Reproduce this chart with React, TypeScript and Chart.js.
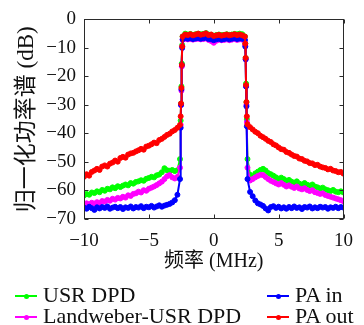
import React, { useEffect, useRef } from "react";
import { Chart, registerables } from "chart.js";

Chart.register(...registerables);

// Frequency grid (MHz): left stopband, left edge, passband, right edge, right stopband
const freqLeftStop = [-10, -9.8, -9.6, -9.4, -9.2, -9, -8.8, -8.6, -8.4, -8.2, -8, -7.8, -7.6, -7.4, -7.2, -7, -6.8, -6.6, -6.4, -6.2, -6, -5.8, -5.6, -5.4, -5.2, -5, -4.8, -4.6, -4.4, -4.2, -4, -3.8, -3.6, -3.4, -3.2, -3, -2.8, -2.6];
const freqLeftEdge = [-2.55, -2.52, -2.49, -2.46, -2.43];
const freqPass = [-2.4, -2.2, -2, -1.8, -1.6, -1.4, -1.2, -1, -0.8, -0.6, -0.4, -0.2, 0, 0.2, 0.4, 0.6, 0.8, 1, 1.2, 1.4, 1.6, 1.8, 2, 2.2, 2.4];
const freqRightEdge = [2.43, 2.46, 2.49, 2.52, 2.55];
const freqRightStop = [2.6, 2.8, 3, 3.2, 3.4, 3.6, 3.8, 4, 4.2, 4.4, 4.6, 4.8, 5, 5.2, 5.4, 5.6, 5.8, 6, 6.2, 6.4, 6.6, 6.8, 7, 7.2, 7.4, 7.6, 7.8, 8, 8.2, 8.4, 8.6, 8.8, 9, 9.2, 9.4, 9.6, 9.8, 10];
const freq = [...freqLeftStop, ...freqLeftEdge, ...freqPass, ...freqRightEdge, ...freqRightStop];

// USR DPD (green)
const usrDpd = [
  -61.8, -61.2, -61.5, -60.7, -60.9, -60.3, -60.6, -59.8, -60.1, -59.4, -59.6, -58.9, -59.2, -58.5, -58.8, -58.3, -57.9, -58.2, -57.4, -57.6, -57.0, -56.8, -56.4, -56.6, -55.9, -55.6, -55.2, -55.4, -54.7, -54.4, -53.6, -52.2, -52.9, -53.1, -52.8, -53.2, -52.9, -49.0,
  -35.5, -29.5, -23.5, -15.5, -9,
  -6, -5.0, -5.3, -5.1, -5.4, -5.2, -5.0, -5.2, -5.1, -4.8, -5.3, -5.4, -5.7, -5.5, -5.3, -5.5, -5.4, -5.2, -5.4, -5.3, -5.1, -5.2, -5.0, -5.2, -6,
  -8.5, -13.5, -22.5, -29, -35,
  -49.0, -54.5, -55.2, -54.0, -53.4, -52.8, -52.4, -53.0, -53.9, -54.3, -54.8, -55.4, -55.9, -55.5, -56.0, -56.6, -56.3, -56.9, -57.3, -56.8, -57.6, -57.9, -57.4, -58.0, -58.3, -57.9, -58.6, -58.9, -59.3, -59.0, -59.6, -59.9, -60.2, -59.8, -60.4, -60.6, -60.3, -60.7,
];

// Landweber-USR DPD (magenta)
const landweberDpd = [
  -64.8, -64.5, -64.9, -64.3, -64.6, -64.1, -64.4, -63.7, -63.9, -63.3, -63.6, -62.9, -63.2, -62.6, -62.8, -62.2, -62.5, -61.7, -61.9, -61.2, -61.0, -60.4, -60.7, -59.9, -60.1, -59.4, -59.0, -58.6, -58.1, -57.5, -56.9, -56.0, -55.0, -54.6, -55.4, -55.8, -55.2, -52.0,
  -37, -30, -25, -16.5, -9.5,
  -7.2, -6.8, -7.0, -6.9, -7.1, -6.9, -6.8, -7.0, -6.9, -6.7, -7.2, -7.6, -8.2, -7.5, -7.1, -7.3, -7.2, -7.0, -7.3, -7.1, -6.9, -7.2, -7.0, -7.1, -7.4,
  -9, -14, -23.5, -30, -36,
  -52.0, -56.5, -56.0, -55.4, -54.9, -54.5, -54.6, -55.3, -56.0, -56.6, -57.0, -57.5, -57.9, -57.4, -58.0, -58.6, -58.2, -58.7, -59.1, -58.6, -59.3, -59.6, -59.2, -59.8, -60.2, -59.9, -60.6, -60.9, -61.2, -61.0, -61.6, -61.9, -62.2, -62.5, -62.8, -63.1, -63.4, -63.8,
];

// PA in (blue)
const paIn = [
  -66.0, -66.4, -65.7, -66.2, -66.8, -65.9, -66.3, -65.8, -66.1, -65.6, -66.4, -66.0, -65.7, -66.2, -65.8, -66.5, -65.9, -66.1, -65.6, -66.3, -65.8, -66.0, -65.5, -66.2, -65.7, -65.9, -65.4, -66.0, -65.6, -65.2, -65.7, -65.3, -65.0, -64.7, -64.2, -63.4, -61.5, -56.0,
  -38, -30, -24.5, -16, -10,
  -7, -6.5, -6.8, -6.6, -6.9, -6.7, -6.5, -6.8, -6.6, -6.4, -6.9, -7.0, -7.3, -7.0, -6.8, -7.1, -6.9, -6.7, -7.0, -6.8, -6.6, -6.9, -6.7, -6.8, -7.2,
  -9.5, -14, -23.5, -30.5, -37.5,
  -56.0, -60.5, -62.0, -63.5, -64.5, -64.9, -65.4, -66.3, -67.0, -65.8, -65.5, -66.1, -65.7, -66.3, -65.9, -66.4, -65.8, -66.2, -65.6, -66.1, -65.9, -66.5, -65.8, -66.0, -65.6, -66.3, -65.9, -66.2, -65.7, -66.0, -65.8, -66.4, -65.9, -66.1, -65.7, -66.2, -65.8, -66.0,
];

// PA out (red)
const paOut = [
  -55.2, -54.3, -54.8, -53.5, -53.0, -52.4, -52.8, -51.6, -51.2, -51.6, -50.6, -50.2, -49.5, -49.9, -48.6, -48.2, -48.5, -47.4, -47.0, -46.8, -46.3, -45.9, -45.4, -45.7, -44.6, -44.3, -43.8, -43.2, -43.4, -42.3, -41.9, -41.2, -40.5, -40.1, -39.3, -38.8, -38.0, -37.0,
  -34, -29.5, -24, -16, -9.5,
  -6, -5.3, -5.5, -5.2, -5.6, -5.3, -5.0, -5.4, -5.2, -4.9, -5.5, -5.3, -5.8, -5.6, -5.4, -5.7, -5.5, -5.3, -5.6, -5.4, -5.2, -5.5, -5.3, -5.6, -6,
  -8.5, -13.5, -23, -29, -34,
  -36.8, -37.8, -38.6, -39.4, -39.9, -40.8, -41.3, -41.9, -42.6, -43.0, -43.8, -44.2, -44.9, -45.5, -45.7, -46.5, -46.8, -47.4, -47.9, -48.1, -48.8, -49.0, -49.6, -49.8, -50.4, -50.5, -51.1, -51.0, -51.6, -51.9, -52.1, -52.6, -52.4, -53.0, -53.2, -53.6, -53.5, -54.1,
];

const xTicks = [-10, -5, 0, 5, 10];
const yTicks = [0, -10, -20, -30, -40, -50, -60, -70];

const seriesNames = ["USR DPD", "Landweber-USR DPD", "PA in", "PA out"];
const seriesColors = ["#00ff00", "#ff00ff", "#0000ff", "#ff0000"];
const seriesValues = [usrDpd, landweberDpd, paIn, paOut];

const SERIF = "'Liberation Serif', 'Noto Sans CJK SC', serif";

const framePlugin = {
  id: "frame",
  afterDraw(chart: any) {
    const { ctx, chartArea, scales } = chart;
    const l = Math.round(chartArea.left) + 0.5;
    const r = Math.round(chartArea.right) - 0.5;
    const t = Math.round(chartArea.top) + 0.5;
    const b = Math.round(chartArea.bottom) - 0.5;
    ctx.save();
    ctx.strokeStyle = "#2a2a2a";
    ctx.lineWidth = 1;
    ctx.strokeRect(l, t, r - l, b - t);
    const len = 4;
    ctx.beginPath();
    for (const v of xTicks) {
      const px = Math.round(scales.x.getPixelForValue(v)) + 0.5;
      ctx.moveTo(px, b);
      ctx.lineTo(px, b - len);
      ctx.moveTo(px, t);
      ctx.lineTo(px, t + len);
    }
    for (const v of yTicks) {
      const py = Math.round(scales.y.getPixelForValue(v)) + 0.5;
      ctx.moveTo(l, py);
      ctx.lineTo(l + len, py);
      ctx.moveTo(r, py);
      ctx.lineTo(r - len, py);
    }
    ctx.stroke();
    ctx.restore();
  },
};

const fmt = (v: number) => (v < 0 ? "\u2212" + Math.abs(v) : String(v));

function LegendItem({ x, y, color, label }: { x: number; y: number; color: string; label: string }) {
  return (
    <>
      <div style={{ position: "absolute", left: x, top: y - 1, width: 22, height: 2, background: color }} />
      <div
        style={{
          position: "absolute",
          left: x + 8.5,
          top: y - 2.5,
          width: 5,
          height: 5,
          borderRadius: "50%",
          background: color,
        }}
      />
      <div
        style={{
          position: "absolute",
          left: x + 28,
          top: y - 12,
          fontFamily: SERIF,
          fontSize: 22,
          lineHeight: "21px",
          color: "#111",
          whiteSpace: "nowrap",
        }}
      >
        {label}
      </div>
    </>
  );
}

export default function App() {
  const canvasRef = useRef<HTMLCanvasElement | null>(null);

  useEffect(() => {
    const canvas = canvasRef.current;
    if (!canvas) return;
    const order = [3, 2, 1, 0];
    const chart = new Chart(canvas, {
      type: "line",
      data: {
        datasets: seriesValues.map((vals, i) => ({
          label: seriesNames[i],
          data: freq.map((f, j) => ({ x: f, y: vals[j] })),
          borderColor: seriesColors[i],
          backgroundColor: seriesColors[i],
          borderWidth: 2,
          pointRadius: 2.5,
          pointBorderWidth: 1,
          pointStyle: "circle",
          tension: 0,
          fill: false,
          order: order[i],
        })),
      },
      options: {
        animation: false,
        responsive: false,
        devicePixelRatio: 1,
        layout: { padding: { left: 0, right: 20, top: 18, bottom: 46 } },
        plugins: { legend: { display: false }, tooltip: { enabled: false } },
        scales: {
          x: {
            type: "linear",
            min: -10,
            max: 10,
            afterBuildTicks: (s: any) => {
              s.ticks = xTicks.map((v) => ({ value: v }));
            },
            ticks: {
              color: "#111",
              font: { family: SERIF, size: 19 },
              padding: 11,
              maxRotation: 0,
              callback: (v: any) => fmt(Number(v)),
            },
            grid: { display: false, drawTicks: false },
            border: { display: false },
            title: {
              display: true,
              text: "频率 (MHz)",
              color: "#111",
              font: { family: SERIF, size: 20 },
              padding: { top: 0, bottom: 5 },
            },
            afterFit: (s: any) => {
              s.height = 60;
            },
          },
          y: {
            type: "linear",
            min: -70,
            max: 0,
            afterBuildTicks: (s: any) => {
              s.ticks = yTicks.map((v) => ({ value: v }));
            },
            ticks: {
              color: "#111",
              font: { family: SERIF, size: 19 },
              padding: 8,
              callback: (v: any) => fmt(Number(v)),
            },
            grid: { display: false, drawTicks: false },
            border: { display: false },
            title: {
              display: true,
              text: "归一化功率谱 (dB)",
              color: "#111",
              font: { family: SERIF, size: 23 },
              padding: { top: 13, bottom: 0 },
            },
            afterFit: (s: any) => {
              s.width = 84;
            },
          },
        },
      },
      plugins: [framePlugin],
    });
    return () => chart.destroy();
  }, []);

  return (
    <div style={{ position: "fixed", left: 0, top: 0, width: 364, height: 325, background: "#fff" }}>
      <canvas ref={canvasRef} width={364} height={325} style={{ position: "absolute", left: 0, top: 0, width: 364, height: 325 }} />
      <LegendItem x={15} y={296} color={seriesColors[0]} label={seriesNames[0]} />
      <LegendItem x={15} y={317} color={seriesColors[1]} label={seriesNames[1]} />
      <LegendItem x={267} y={296} color={seriesColors[2]} label={seriesNames[2]} />
      <LegendItem x={267} y={317} color={seriesColors[3]} label={seriesNames[3]} />
    </div>
  );
}
